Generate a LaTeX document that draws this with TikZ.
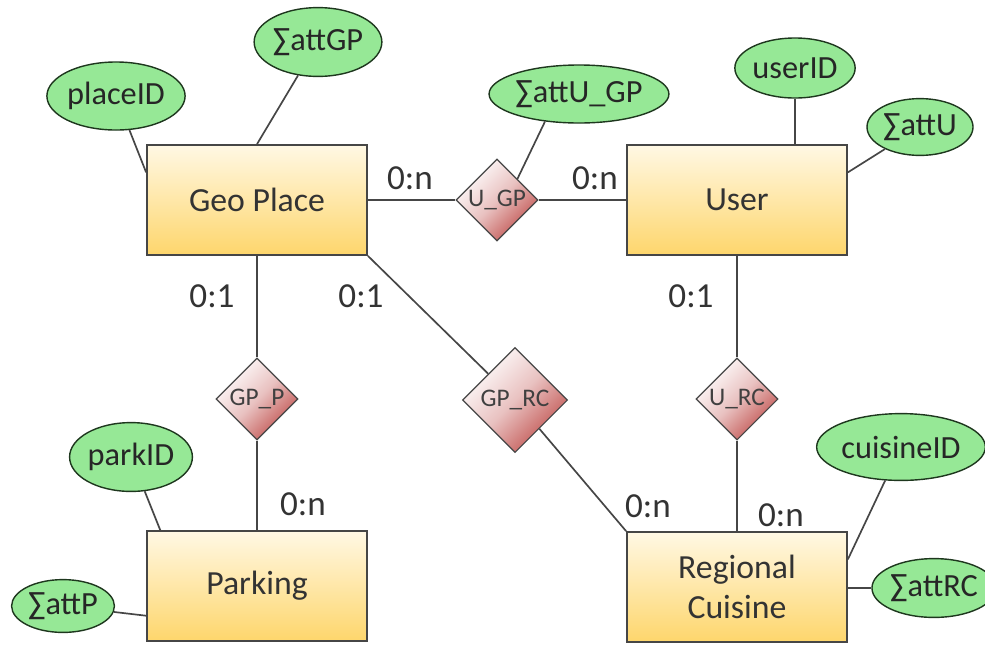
\documentclass[tikz,border=0pt]{standalone}
\usepackage{fontspec}
\setmainfont{Carlito}
\usetikzlibrary{shapes.geometric, positioning}

\definecolor{entTop}{RGB}{255,248,228}
\definecolor{entBot}{RGB}{254,214,108}
\definecolor{relRed}{RGB}{192,80,77}
\definecolor{attGreen}{RGB}{150,232,150}
\definecolor{attLine}{RGB}{30,55,30}
\definecolor{lineGray}{RGB}{70,70,70}

\begin{document}
\begin{tikzpicture}[x=0.025cm, y=-0.025cm,
  entity/.style={rectangle, draw=lineGray, line width=1.2pt, minimum width=5.5cm, minimum height=2.75cm,
    top color=entTop, bottom color=entBot, align=center, text=black!80, font=\fontsize{24}{28}\selectfont},
  relation/.style={diamond, aspect=1, draw=lineGray, line width=0.8pt, inner sep=0pt, minimum size=2.05cm,
    top color=white, bottom color=relRed, middle color=relRed!35, shading angle=45, text=black!75,
    font=\fontsize{18}{20}\selectfont},
  attrib/.style={ellipse, draw=attLine, line width=1pt, inner sep=0pt, fill=attGreen,
    text=black!85, font=\fontsize{23}{25}\selectfont},
  card/.style={text=black!80, font=\fontsize{25}{27}\selectfont},
  conn/.style={draw=lineGray, line width=1.2pt}]
  \useasboundingbox (0,0) rectangle (985,646);

  % entities
  \node[entity] (geo) at (257,200) {Geo Place};
  \node[entity] (user) at (737,200) {User};
  \node[entity] (park) at (257,586) {Parking};
  \node[entity] (cuis) at (737,587) {Regional\\Cuisine};

  % relationships
  \node[relation] (ugp) at (497,200) {U\_GP};
  \node[relation] (gpp) at (257,399) {GP\_P};
  \node[relation, minimum size=2.625cm] (gprc) at (515,400) {GP\_RC};
  \node[relation] (urc) at (737,399) {U\_RC};

  % attributes
  \node[attrib, minimum width=3.05cm, minimum height=1.7cm] (placeid) at (116,96) {placeID};
  \node[attrib, minimum width=3.02cm, minimum height=1.72cm] (attgp) at (318,42) {∑attGP};
  \node[attrib, minimum width=4.45cm, minimum height=1.45cm] (attugp) at (579,94) {∑attU\_GP};
  \node[attrib, minimum width=2.65cm, minimum height=1.5cm] (userid) at (795,68) {userID};
  \node[attrib, minimum width=2.65cm, minimum height=1.42cm] (attu) at (920,127) {∑attU};
  \node[attrib, minimum width=3.07cm, minimum height=1.72cm] (parkid) at (131,457) {parkID};
  \node[attrib, minimum width=2.57cm, minimum height=1.32cm] (attp) at (63,606) {∑attP};
  \node[attrib, minimum width=3.07cm, minimum height=1.67cm] (cuisid) at (901,447) {cuisineID};
  \node[attrib, minimum width=2.45cm, minimum height=1.47cm] (attrc) at (934,588) {∑attRC};

  % cardinalities
  \node[card] (c1) at (410,178) {0:n};
  \node[card] (c2) at (595,178) {0:n};
  \node[card] (c3) at (212,296) {0:1};
  \node[card] (c4) at (361,296) {0:1};
  \node[card] (c5) at (691,296) {0:1};
  \node[card] (c6) at (303,504) {0:n};
  \node[card] (c7) at (648,506) {0:n};
  \node[card] (c8) at (781,515) {0:n};

  % links
  \draw[conn] (geo) -- (ugp) -- (user);
  \draw[conn] (geo) -- (gpp) -- (park);
  \draw[conn] (user) -- (urc) -- (cuis);
  \draw[conn] (geo.south east) -- (gprc) -- (cuis.north west);

  \draw[conn] (placeid) -- (geo.166);
  \draw[conn] (attgp) -- (geo.north);
  \draw[conn] (attugp.219) -- (ugp.46);
  \draw[conn] (userid.south) -- (userid.south |- user.north);
  \draw[conn] (attu) -- (user.14);
  \draw[conn] (parkid) -- (park.150);
  \draw[conn] (attp) -- (park.195);
  \draw[conn] (cuisid) -- (cuis.14);
  \draw[conn] (attrc) -- (attrc -| cuis.east);
\end{tikzpicture}
\end{document}
